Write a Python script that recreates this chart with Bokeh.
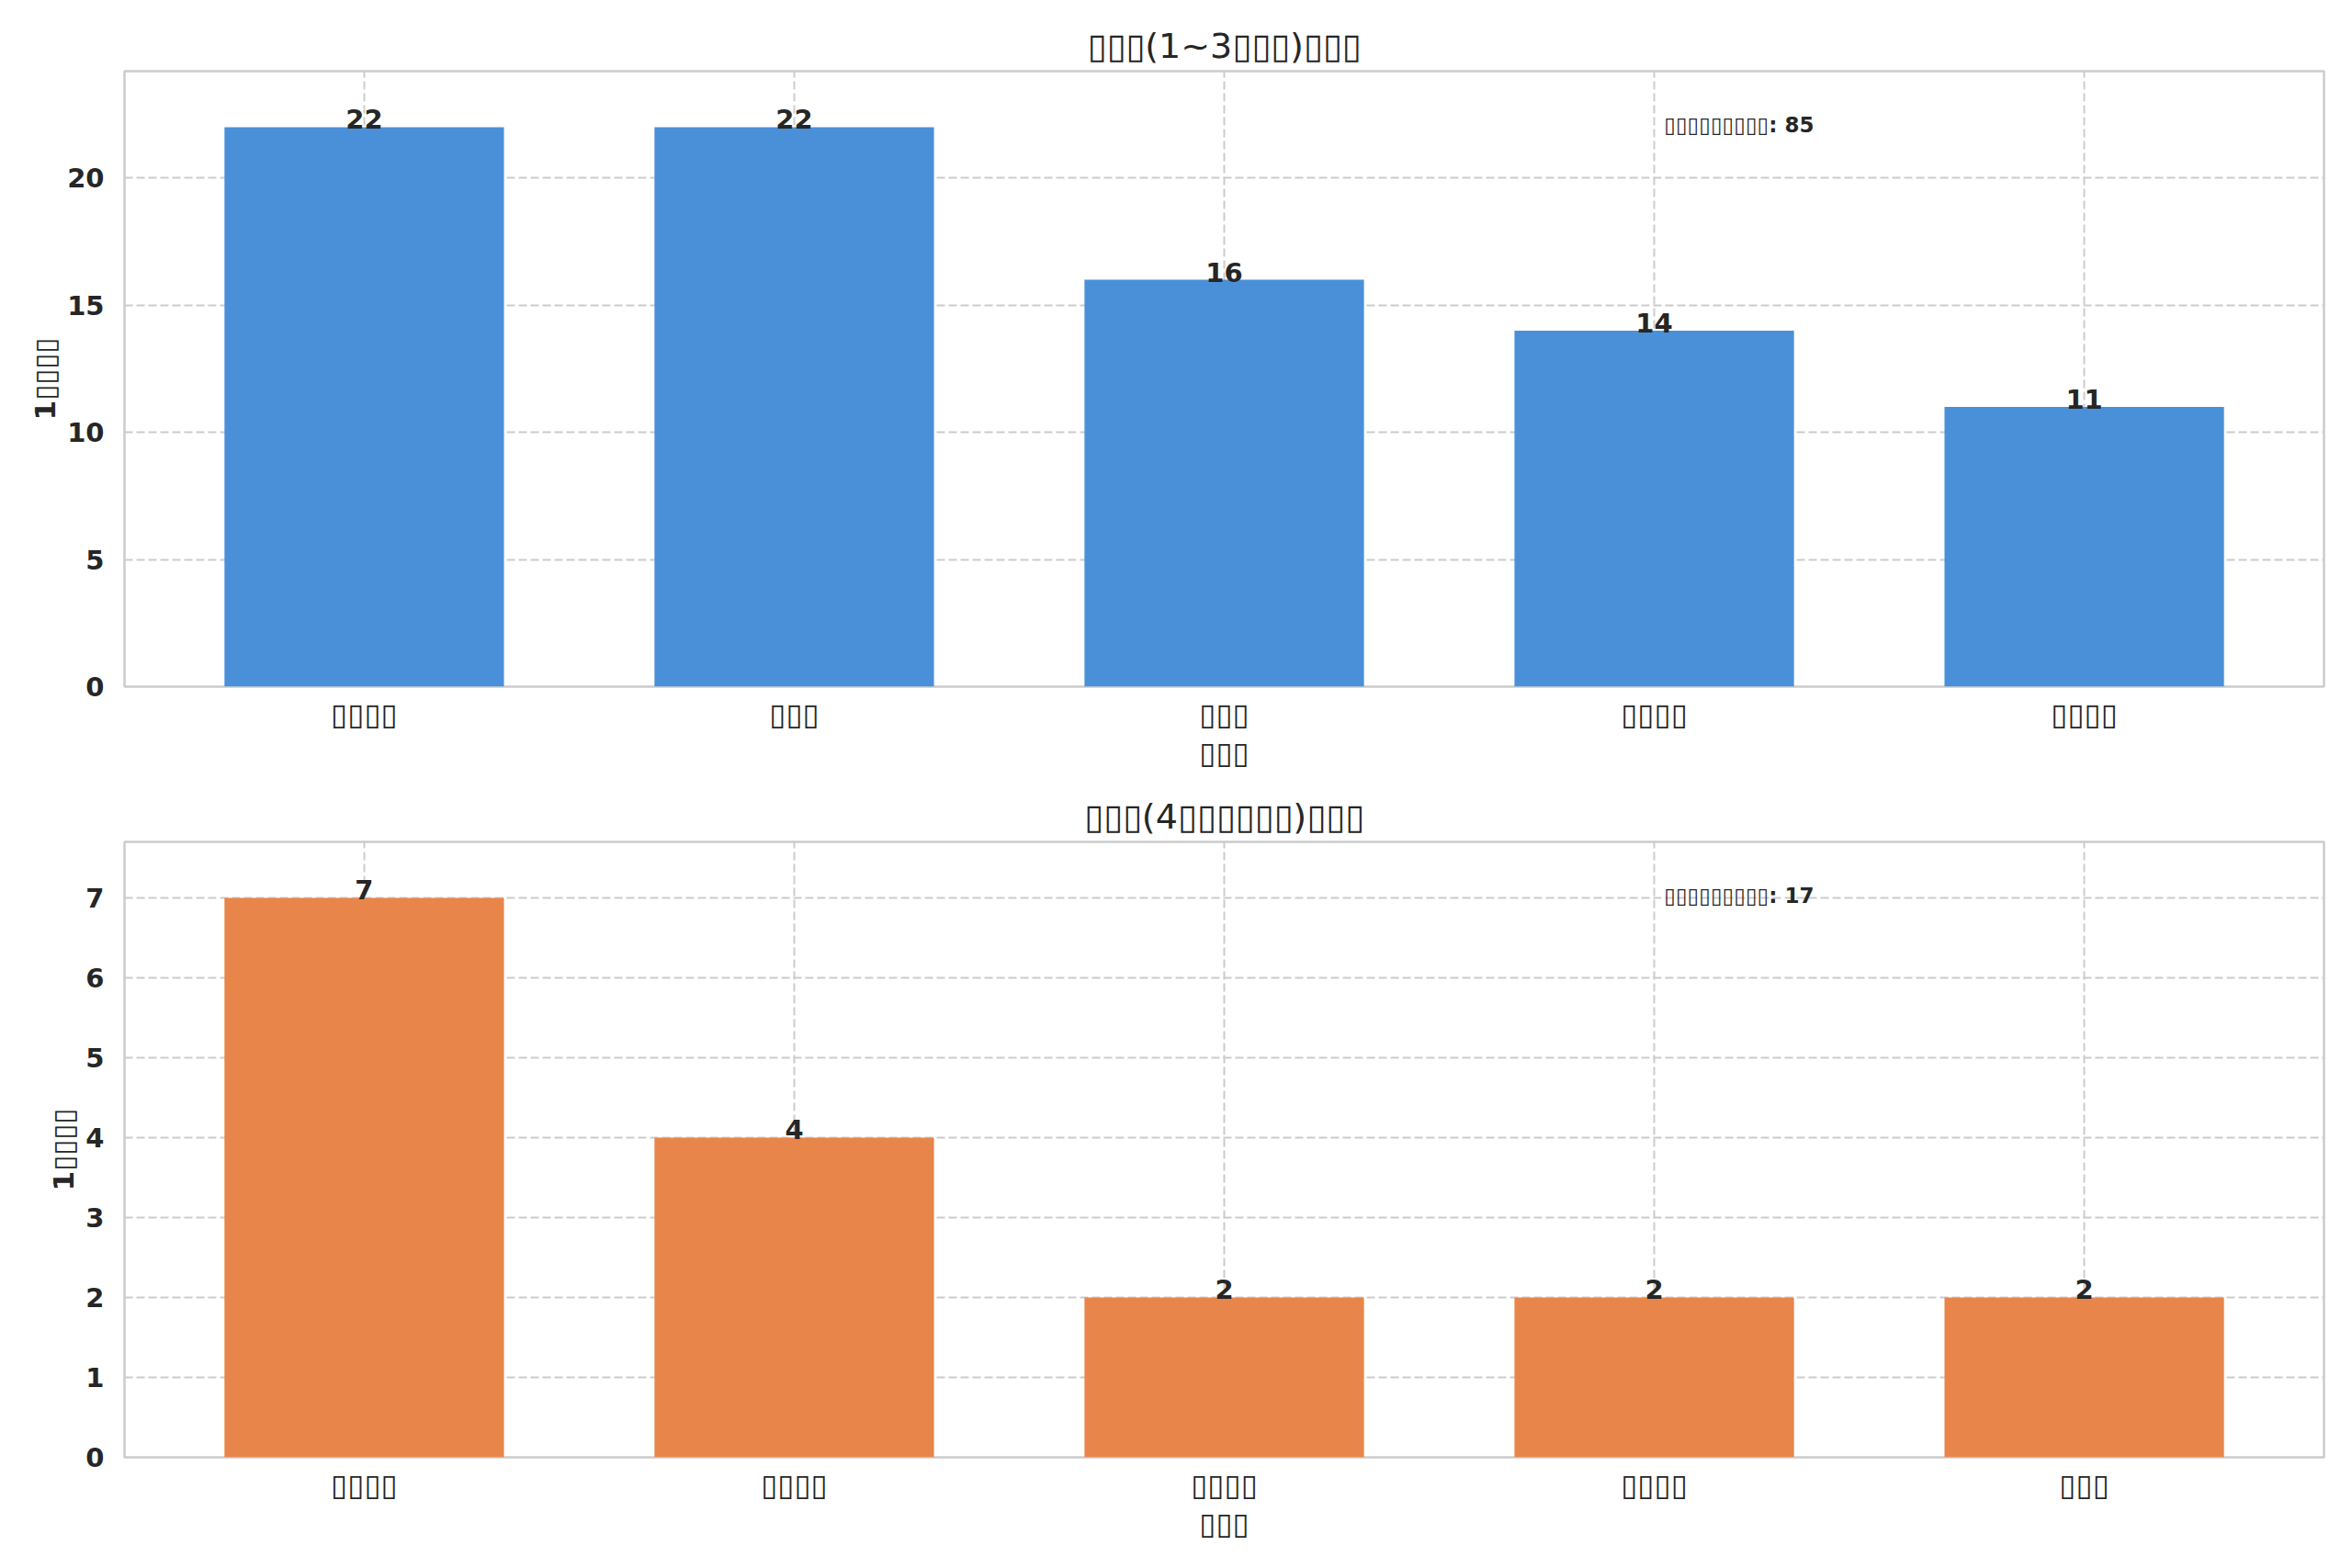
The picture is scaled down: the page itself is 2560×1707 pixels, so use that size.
from bokeh.plotting import figure
from bokeh.layouts import column
from bokeh.models import (ColumnDataSource, Range1d, FixedTicker, SingleIntervalTicker,
                          Label, Title)
from bokeh.core.properties import value
from bokeh.embed import file_html
from bokeh.resources import INLINE

# ---- data ----
top_title = "▯▯▯(1~3▯▯▯)▯▯▯"
bottom_title = "▯▯▯(4▯▯▯▯▯▯)▯▯▯"
x_axis_label = "▯▯▯"
y_axis_label = "1▯▯▯▯"
total_prefix = "▯▯▯▯▯▯▯▯▯"

top_labels = ["▯▯▯▯", "▯▯▯", "▯▯▯", "▯▯▯▯", "▯▯▯▯"]
top_values = [22, 22, 16, 14, 11]

bottom_labels = ["▯▯▯▯", "▯▯▯▯", "▯▯▯▯", "▯▯▯▯", "▯▯▯"]
bottom_values = [7, 4, 2, 2, 2]

BLUE = "#4A90D9"
ORANGE = "#E8854A"
TXT = "#262626"
GRID = "#cccccc"
FONT = "DejaVu Sans"

FRAME_W = 2394
FRAME_H = 670
LEFT = 135
RIGHT = 23


def make_fig(title, labels, values, color, top, bottom, y_interval):
    n = len(values)
    xs = list(range(n))
    p = figure(width=LEFT + FRAME_W + RIGHT, height=top + FRAME_H + bottom,
               output_backend="svg", toolbar_location=None,
               x_range=Range1d(-0.5575, n - 1 + 0.5575),
               y_range=Range1d(0, max(values) * 1.1),
               min_border_left=LEFT, min_border_right=RIGHT,
               min_border_top=top, min_border_bottom=bottom,
               background_fill_color="white", border_fill_color="white")
    p.title = Title(text=title, align="center", text_font=FONT,
                    text_font_size="38px", text_font_style="normal",
                    text_color=TXT, standoff=11)
    src = ColumnDataSource(dict(x=xs, top=values,
                                lab=[str(v) for v in values]))
    p.vbar(x="x", top="top", bottom=0, width=0.65, source=src,
           fill_color=color, line_color=None)
    p.text(x="x", y="top", text="lab", source=src,
           text_font=value(FONT), text_font_style="bold",
           text_font_size="29px", text_color=TXT,
           text_align="center", text_baseline="bottom", y_offset=2)

    p.xaxis.ticker = FixedTicker(ticks=xs)
    p.xaxis.major_label_overrides = {i: lab for i, lab in zip(xs, labels)}
    p.yaxis.ticker = SingleIntervalTicker(interval=y_interval)
    p.xaxis.axis_label = x_axis_label
    p.yaxis.axis_label = y_axis_label

    for ax in (p.xaxis[0], p.yaxis[0]):
        ax.axis_line_color = None
        ax.major_tick_line_color = None
        ax.minor_tick_line_color = None
        ax.major_tick_out = 0
        ax.major_tick_in = 0
        ax.minor_tick_out = 0
        ax.major_label_text_font = FONT
        ax.major_label_text_color = TXT
        ax.axis_label_text_font = FONT
        ax.axis_label_text_color = TXT
    p.yaxis.major_label_text_font_style = "bold"
    p.yaxis.major_label_text_font_size = "29px"
    p.yaxis.major_label_standoff = 22
    p.yaxis.axis_label_text_font_style = "bold"
    p.yaxis.axis_label_text_font_size = "31px"
    p.yaxis.axis_label_standoff = 3
    p.xaxis.major_label_text_font_style = "normal"
    p.xaxis.major_label_text_font_size = "33px"
    p.xaxis.major_label_standoff = 10
    p.xaxis.axis_label_text_font_style = "normal"
    p.xaxis.axis_label_text_font_size = "33px"
    p.xaxis.axis_label_standoff = 0

    for g in (p.xgrid[0], p.ygrid[0]):
        g.grid_line_color = GRID
        g.grid_line_width = 2
        g.grid_line_dash = "9 4"

    p.outline_line_color = GRID
    p.outline_line_width = 2.5

    p.add_layout(Label(x=0.7 * FRAME_W, y=0.9 * FRAME_H - 4,
                       x_units="screen", y_units="screen",
                       text=f"{total_prefix}: {sum(values)}",
                       text_font=FONT, text_font_style="bold",
                       text_font_size="23px", text_color=TXT,
                       text_align="left", text_baseline="bottom"))
    return p


p1 = make_fig(top_title, top_labels, top_values, BLUE, 77, 105, 5)
p2 = make_fig(bottom_title, bottom_labels, bottom_values, ORANGE, 64, 105, 1)

layout = column(p1, p2, spacing=0)

with open("out.html", "w") as f:
    f.write(file_html(layout, INLINE))
